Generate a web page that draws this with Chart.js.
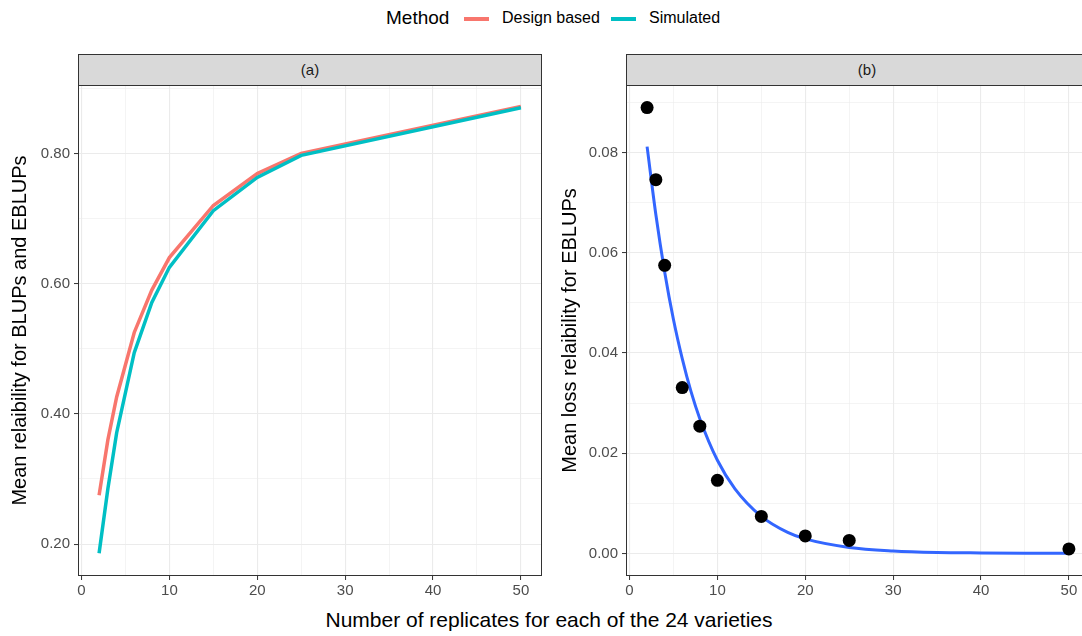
<!DOCTYPE html>
<html>
<head>
<meta charset="utf-8">
<script src="https://cdn.jsdelivr.net/npm/chart.js@4"></script>
<style>
  body { margin: 0; width: 1082px; height: 636px; overflow: hidden; background: #fff; position: relative;
         font-family: "Liberation Sans", Arial, sans-serif; }
  .abs { position: absolute; white-space: nowrap; }
  .key { position: absolute; height: 4px; top: 17px; width: 25px; }
  .strip { position: absolute; top: 54px; height: 30px; background: #d9d9d9; border: 1px solid #333;
           font-size: 15px; color: #1a1a1a; text-align: center; line-height: 30px; }
  .panel { position: absolute; top: 85px; }
</style>
</head>
<body>
<div class="abs" style="left:386px; top:7px; font-size:19px; color:#000;">Method</div>
<div class="key" style="left:464px; background:#F8766D;"></div>
<div class="abs" style="left:502px; top:9px; font-size:16px; color:#000;">Design based</div>
<div class="key" style="left:611px; background:#00BFC4;"></div>
<div class="abs" style="left:649px; top:9px; font-size:16px; color:#000;">Simulated</div>

<div class="strip" style="left:78px; width:462px;">(a)</div>
<div class="strip" style="left:626px; width:480px;">(b)</div>

<div class="panel" style="left:0; width:550px; height:521px;"><canvas id="relChart"></canvas></div>
<div class="panel" style="left:550px; width:550px; height:521px;"><canvas id="lossChart"></canvas></div>

<div class="abs" style="left:0; width:1098px; top:608px; text-align:center; font-size:21px; color:#000;">Number of replicates for each of the 24 varieties</div>

<script>
// replicates used in both panels
const reps = [2, 3, 4, 6, 8, 10, 15, 20, 25, 50];

// panel (a)
const designBased = [0.275, 0.36, 0.426, 0.525, 0.59, 0.64, 0.72, 0.769, 0.8, 0.872];
const simulated = [0.186, 0.285, 0.371, 0.494, 0.571, 0.625, 0.712, 0.763, 0.797, 0.87];

// panel (b)
const lossPoints = [0.089, 0.0746, 0.0575, 0.0331, 0.0254, 0.0146, 0.0074, 0.0035, 0.0026, 0.0009];
const fitReps = [2, 3, 4, 5, 6, 7, 8, 10, 12, 15, 18, 20, 25, 30, 35, 40, 45, 50];
const fitLoss = [0.0812, 0.0676, 0.0562, 0.0467, 0.0389, 0.0323, 0.0269, 0.0186, 0.0129, 0.0074,
                 0.0042, 0.0029, 0.0012, 0.0005, 0.0002, 0.0001, 0.00004, 0.00002];

// ticks
const xMajor = [0, 10, 20, 30, 40, 50];
const xMinor = [5, 15, 25, 35, 45];
const relMajor = [0.2, 0.4, 0.6, 0.8];
const relMinor = [0.3, 0.5, 0.7, 0.9];
const lossMajor = [0, 0.02, 0.04, 0.06, 0.08];
const lossMinor = [0.01, 0.03, 0.05, 0.07, 0.09];

const tickFont = { family: "'Liberation Sans', Arial, sans-serif", size: 15 };
const titleFont = { family: "'Liberation Sans', Arial, sans-serif", size: 20 };

function toXY(xs, ys) {
  return xs.map((x, i) => ({ x: x, y: ys[i] }));
}

// draws the dark frame round the plot area (theme_bw look)
const panelBorder = {
  id: "panelBorder",
  afterDraw(chart) {
    const a = chart.chartArea;
    const ctx = chart.ctx;
    ctx.save();
    ctx.strokeStyle = "#333333";
    ctx.lineWidth = 1;
    ctx.strokeRect(a.left + 0.5, a.top + 0.5, a.right - a.left - 1, a.bottom - a.top - 1);
    ctx.restore();
  },
};

function makeAxis(major, minor, fmt, opts) {
  return {
    type: "linear",
    min: opts.min,
    max: opts.max,
    afterBuildTicks(scale) {
      scale.ticks = major.concat(minor).sort((a, b) => a - b).map((v) => ({ value: v }));
    },
    afterFit(scale) {
      if (opts.width) scale.width = opts.width;
      if (opts.height) scale.height = opts.height;
      scale.paddingTop = 0;
      scale.paddingBottom = 0;
      scale.paddingLeft = 0;
      scale.paddingRight = 0;
    },
    border: { display: false },
    grid: {
      color: "#ebebeb",
      lineWidth: (c) => (c.tick && major.includes(c.tick.value) ? 1.1 : 0.55),
      tickColor: (c) => (c.tick && major.includes(c.tick.value) ? "#333333" : "rgba(0,0,0,0)"),
      tickWidth: 1,
      tickLength: 4,
    },
    ticks: {
      autoSkip: false,
      maxRotation: 0,
      padding: opts.tickPad,
      color: "#4d4d4d",
      font: tickFont,
      callback: (v) => (major.includes(v) ? fmt(v) : ""),
    },
    title: opts.title
      ? { display: true, text: opts.title, color: "#000", font: titleFont, padding: { top: opts.titlePad, bottom: 0 } }
      : { display: false },
  };
}

function baseOptions(yAxis, padRight) {
  return {
    responsive: true,
    maintainAspectRatio: false,
    animation: false,
    layout: { autoPadding: false, padding: { top: 0, right: padRight, bottom: 0, left: 0 } },
    plugins: { legend: { display: false }, tooltip: { enabled: false } },
    scales: {
      x: makeAxis(xMajor, xMinor, (v) => String(v), { min: -0.4, max: 52.4, height: 30, tickPad: 2 }),
      y: yAxis,
    },
  };
}

new Chart(document.getElementById("relChart"), {
  type: "scatter",
  data: {
    datasets: [
      {
        label: "Simulated",
        data: toXY(reps, simulated),
        showLine: true,
        borderColor: "#00BFC4",
        borderWidth: 3.5,
        pointRadius: 0,
        order: 0,
      },
      {
        label: "Design based",
        data: toXY(reps, designBased),
        showLine: true,
        borderColor: "#F8766D",
        borderWidth: 3.5,
        pointRadius: 0,
        order: 1,
      },
    ],
  },
  options: baseOptions(
    makeAxis(relMajor, relMinor, (v) => v.toFixed(2), {
      min: 0.151, max: 0.905, width: 78, tickPad: 4,
      title: "Mean relaibility for BLUPs and EBLUPs", titlePad: 8,
    }),
    8
  ),
  plugins: [panelBorder],
});

new Chart(document.getElementById("lossChart"), {
  type: "scatter",
  data: {
    datasets: [
      {
        label: "observed",
        data: toXY(reps, lossPoints),
        backgroundColor: "#000",
        borderWidth: 0,
        pointRadius: 6.5,
        order: 0,
      },
      {
        label: "fit",
        data: toXY(fitReps, fitLoss),
        showLine: true,
        borderColor: "#3366FF",
        borderWidth: 3,
        pointRadius: 0,
        cubicInterpolationMode: "monotone",
        order: 1,
      },
    ],
  },
  options: baseOptions(
    makeAxis(lossMajor, lossMinor, (v) => v.toFixed(2), {
      min: -0.0045, max: 0.0935, width: 76, tickPad: 4,
      title: "Mean loss relaibility for EBLUPs", titlePad: 8,
    }),
    10
  ),
  plugins: [panelBorder],
});
</script>
</body>
</html>
